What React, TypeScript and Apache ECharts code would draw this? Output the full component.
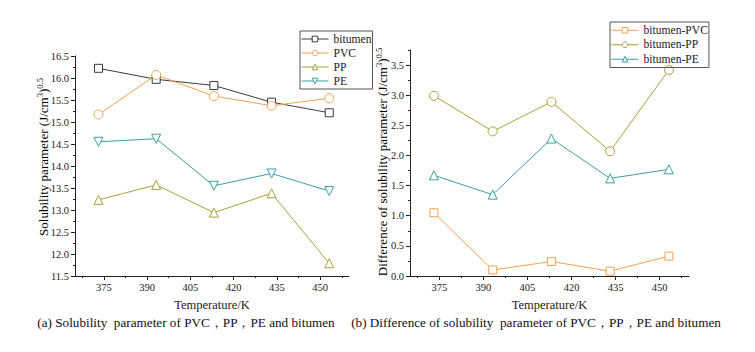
import React, { useEffect, useRef } from "react";
import * as echarts from "echarts";

const temperatures = [373.15, 393.15, 413.15, 433.15, 453.15];
const xTickLabels = [375, 390, 405, 420, 435, 450];
const xMinorTicks = [367.5, 382.5, 397.5, 412.5, 427.5, 442.5, 457.5];

const bitumen = [16.22, 15.97, 15.83, 15.45, 15.21];
const pvc = [15.17, 16.07, 15.59, 15.37, 15.54];
const pp = [13.23, 13.57, 12.94, 13.38, 11.79];
const pe = [14.55, 14.62, 13.55, 13.83, 13.43];

const diffPVC = [1.05, 0.1, 0.24, 0.08, 0.33];
const diffPP = [2.99, 2.4, 2.89, 2.07, 3.42];
const diffPE = [1.67, 1.35, 2.28, 1.62, 1.77];

const leftYTicks = [11.5, 12, 12.5, 13, 13.5, 14, 14.5, 15, 15.5, 16, 16.5];
const leftYMinor = [11.75, 12.25, 12.75, 13.25, 13.75, 14.25, 14.75, 15.25, 15.75, 16.25];
const rightYTicks = [0, 0.5, 1, 1.5, 2, 2.5, 3, 3.5];
const rightYMinor = [0.25, 0.75, 1.25, 1.75, 2.25, 2.75, 3.25, 3.75];

const FONT = "Liberation Serif";
const AX = "#222";

const C_BIT = "#3c3c3c";
const C_PVC = "#F2A24E";
const C_PP = "#A6A43A";
const C_PE = "#3A9FA4";

const INV_TRI = "path://M0,0L10,0L5,8.66Z";

function pairs(ys: number[]) {
  return temperatures.map((t, i) => [t, ys[i]]);
}

function mkSeries(name: string, ys: number[], color: string, symbol: string, size: number, xi: number, yi: number) {
  return {
    name,
    type: "line",
    xAxisIndex: xi,
    yAxisIndex: yi,
    data: pairs(ys),
    symbol,
    symbolSize: size,
    color,
    lineStyle: { color, width: 1 },
    itemStyle: { color: "#fff", borderColor: color, borderWidth: 1 },
    z: 3,
  };
}

function xAxes(grid: number) {
  return [
    {
      type: "value",
      gridIndex: grid,
      min: 365,
      max: 460,
      splitLine: { show: false },
      axisLine: { show: true, lineStyle: { color: AX, width: 1 } },
      axisTick: { show: true, customValues: xTickLabels, length: 4, lineStyle: { color: AX } },
      axisLabel: { customValues: xTickLabels, color: AX, fontFamily: FONT, fontSize: 10.5, margin: 6 },
      name: "Temperature/K",
      nameLocation: "middle",
      nameGap: 22,
      nameTextStyle: { color: AX, fontFamily: FONT, fontSize: 12.5 },
    },
    {
      type: "value",
      gridIndex: grid,
      min: 365,
      max: 460,
      position: "bottom",
      splitLine: { show: false },
      axisLine: { show: false },
      axisTick: { show: true, customValues: xMinorTicks, length: 2, lineStyle: { color: AX } },
      axisLabel: { show: false, customValues: xMinorTicks },
    },
  ];
}

function yAxes(grid: number, min: number, max: number, ticks: number[], minor: number[], dec: number) {
  return [
    {
      type: "value",
      gridIndex: grid,
      min,
      max,
      splitLine: { show: false },
      axisLine: { show: true, lineStyle: { color: AX, width: 1 } },
      axisTick: { show: true, customValues: ticks, length: 4, lineStyle: { color: AX } },
      axisLabel: {
        customValues: ticks,
        color: AX,
        fontFamily: FONT,
        fontSize: 10.5,
        margin: 6,
        formatter: (v: number) => v.toFixed(dec),
      },
    },
    {
      type: "value",
      gridIndex: grid,
      min,
      max,
      position: "left",
      splitLine: { show: false },
      axisLine: { show: false },
      axisTick: { show: true, customValues: minor, length: 2, lineStyle: { color: AX } },
      axisLabel: { show: false, customValues: minor },
    },
  ];
}

const rich = {
  a: { fontFamily: FONT, fontSize: 13, color: AX, lineHeight: 16 },
  s: { fontFamily: FONT, fontSize: 8.5, color: AX, verticalAlign: "top", lineHeight: 8 },
};

export default function App() {
  const ref = useRef<HTMLDivElement>(null);
  useEffect(() => {
    if (!ref.current) return;
    const chart = echarts.init(ref.current, null, { renderer: "svg" });
    const legendCommon = {
      orient: "vertical",
      itemGap: 0,
      itemWidth: 27,
      itemHeight: 7,
      borderColor: "#555",
      borderWidth: 1,
      borderRadius: 0,
      lineStyle: { width: 1 },
      itemStyle: { borderWidth: 1 },
    };
    chart.setOption({
      animation: false,
      backgroundColor: "#fff",
      grid: [
        { left: 75, top: 56, width: 274, height: 220 },
        { left: 410, top: 50, width: 279, height: 226 },
      ],
      xAxis: [...xAxes(0), ...xAxes(1)],
      yAxis: [
        ...yAxes(0, 11.5, 16.5, leftYTicks, leftYMinor, 1),
        ...yAxes(1, 0, 3.75, rightYTicks, rightYMinor, 1),
      ],
      legend: [
        {
          ...legendCommon,
          data: ["bitumen", "PVC", "PP", "PE"],
          left: 300,
          top: 31,
          padding: [1, 1, 1, 1],
          textStyle: { fontFamily: FONT, fontSize: 11.6, color: AX, lineHeight: 14 },
        },
        {
          ...legendCommon,
          data: ["bitumen-PVC", "bitumen-PP", "bitumen-PE"],
          left: 610,
          top: 22,
          padding: [1, 1, 1, 1],
          textStyle: { fontFamily: FONT, fontSize: 11.6, color: AX, lineHeight: 14.5 },
        },
      ],
      graphic: [
        {
          type: "text",
          x: 43,
          y: 157,
          rotation: Math.PI / 2,
          style: {
            text: "{a|Solubility parameter (J/cm}{s|3}{a|)}{s|0.5}",
            rich,
            align: "center",
            verticalAlign: "middle",
          },
        },
        {
          type: "text",
          x: 382,
          y: 162,
          rotation: Math.PI / 2,
          style: {
            text: "{a|Difference of solubility parameter (J/cm}{s|3}{a|)}{s|0.5}",
            rich,
            align: "center",
            verticalAlign: "middle",
          },
        },
        {
          type: "text",
          x: 186,
          y: 322,
          style: {
            text: "(a) Solubility  parameter of PVC，PP，PE and bitumen",
            fontFamily: FONT,
            fontSize: 13.2,
            fill: "#111",
            align: "center",
            verticalAlign: "middle",
          },
        },
        {
          type: "text",
          x: 536,
          y: 322,
          style: {
            text: "(b) Difference of solubility  parameter of PVC，PP，PE and bitumen",
            fontFamily: FONT,
            fontSize: 13.2,
            fill: "#111",
            align: "center",
            verticalAlign: "middle",
          },
        },
      ],
      series: [
        mkSeries("bitumen", bitumen, C_BIT, "rect", 8, 0, 0),
        mkSeries("PVC", pvc, C_PVC, "circle", 9, 0, 0),
        mkSeries("PP", pp, C_PP, "triangle", 9, 0, 0),
        mkSeries("PE", pe, C_PE, INV_TRI, 9, 0, 0),
        mkSeries("bitumen-PVC", diffPVC, C_PVC, "rect", 8, 2, 2),
        mkSeries("bitumen-PP", diffPP, C_PP, "circle", 9, 2, 2),
        mkSeries("bitumen-PE", diffPE, C_PE, "triangle", 9, 2, 2),
      ],
    });
    return () => chart.dispose();
  }, []);
  return <div ref={ref} style={{ width: 755, height: 352, position: "absolute", left: 0, top: 0 }} />;
}
